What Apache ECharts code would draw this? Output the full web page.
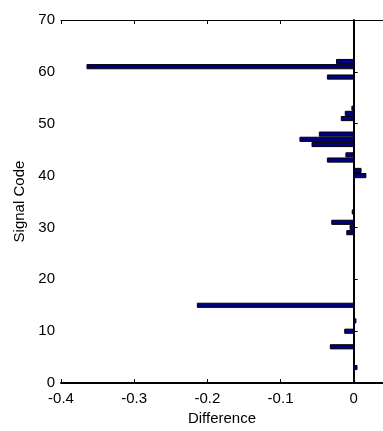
<!DOCTYPE html>
<html>
<head>
<meta charset="utf-8">
<script src="https://cdn.jsdelivr.net/npm/echarts@6/dist/echarts.min.js"></script>
<style>
  html, body { margin: 0; padding: 0; background: #fff; }
  #chart { width: 383px; height: 431px; }
</style>
</head>
<body>
<div id="chart"></div>
<script>
// signal codes on the vertical axis
const signalCodes = [
  1, 2, 3, 4, 5, 6, 7, 8, 9, 10,
  11, 12, 13, 14, 15, 16, 17, 18, 19, 20,
  21, 22, 23, 24, 25, 26, 27, 28, 29, 30,
  31, 32, 33, 34, 35, 36, 37, 38, 39, 40,
  41, 42, 43, 44, 45, 46, 47, 48, 49, 50,
  51, 52, 53, 54, 55, 56, 57, 58, 59, 60,
  61, 62, 63, 64, 65
]
// difference per code
const differences = [
  0, 0, 0.0045, 0, 0, 0, -0.032, 0, 0, -0.0123,
  0, 0.003, 0, 0, -0.2137, 0, 0, 0, 0, 0,
  0, 0, 0, 0, 0, 0, 0, 0, -0.0095, -0.005,
  -0.030, 0, -0.002, 0, 0, 0, 0, 0, 0, 0.0166,
  0.010, 0, -0.036, -0.0107, 0, -0.057, -0.0735, -0.047, 0, 0,
  -0.017, -0.0116, -0.0025, 0, 0, 0, 0, 0, -0.036, 0,
  -0.3645, -0.0235, 0, 0, 0
]
const xTicks = [-0.4, -0.3, -0.2, -0.1, 0]
const yTicks = [0, 10, 20, 30, 40, 50, 60, 70]

const fontFamily = 'Liberation Sans, Arial, sans-serif'
const axisColor = '#000'

const myChart = echarts.init(document.getElementById('chart'), null, { renderer: 'canvas' })

const data = signalCodes.map((code, i) => [code, differences[i]])

const option = {
  backgroundColor: '#fff',
  animation: false,
  textStyle: { fontFamily },
  grid: { left: 61, top: 20, right: -1, bottom: 41 },
  xAxis: [
    {
      type: 'value',
      position: 'bottom',
      min: xTicks[0],
      max: 0.04,
      interval: 0.1,
      name: 'Difference',
      nameLocation: 'middle',
      nameGap: 25,
      nameTextStyle: { color: '#000', fontSize: 15, fontFamily },
      axisLine: { show: true, lineStyle: { color: axisColor, width: 2 } },
      axisTick: { show: true, inside: true, length: 4, lineStyle: { color: axisColor } },
      axisLabel: {
        color: '#000',
        fontSize: 15,
        fontFamily,
        margin: 8,
        showMaxLabel: false,
        formatter: (v) => (Math.abs(v) < 1e-9 ? '0' : String(Math.round(v * 10) / 10)),
      },
      splitLine: { show: false },
    },
    {
      type: 'value',
      position: 'top',
      min: xTicks[0],
      max: 0.04,
      interval: 0.1,
      axisLine: { show: true, lineStyle: { color: axisColor, width: 1 } },
      axisTick: { show: true, inside: true, length: 4, lineStyle: { color: axisColor } },
      axisLabel: { show: false },
      splitLine: { show: false },
    },
  ],
  yAxis: {
    type: 'value',
    min: yTicks[0],
    max: yTicks[yTicks.length - 1],
    interval: 10,
    name: 'Signal Code',
    nameLocation: 'middle',
    nameGap: 32,
    nameTextStyle: { color: '#000', fontSize: 15, fontFamily },
    axisLine: { show: true, lineStyle: { color: axisColor, width: 2 } },
    axisTick: { show: true, inside: true, length: 4, lineStyle: { color: axisColor } },
    axisLabel: { color: '#000', fontSize: 15, fontFamily, margin: 6 },
    splitLine: { show: false },
  },
  series: [
    {
      type: 'custom',
      xAxisIndex: 0,
      encode: { x: 1, y: 0 },
      data,
      renderItem: (params, api) => {
        const code = api.value(0)
        const val = api.value(1)
        const start = api.coord([0, code])
        const end = api.coord([val, code])
        const h = api.size([0, 0.8])[1]
        if (val === 0) {
          // zero bars collapse to a short edge on the zero line
          const x = Math.round(start[0]) + 0.5
          const y1 = Math.round(start[1] - h / 2)
          return {
            type: 'line',
            shape: { x1: x, y1: y1, x2: x, y2: y1 + 4 },
            style: { stroke: '#000', lineWidth: 1 },
          }
        }
        return {
          type: 'rect',
          shape: {
            x: Math.min(start[0], end[0]),
            y: start[1] - h / 2,
            width: Math.abs(end[0] - start[0]),
            height: h,
          },
          style: { fill: '#000080', stroke: '#000', lineWidth: 1 },
        }
      },
    },
  ],
}

myChart.setOption(option)
</script>
</body>
</html>
